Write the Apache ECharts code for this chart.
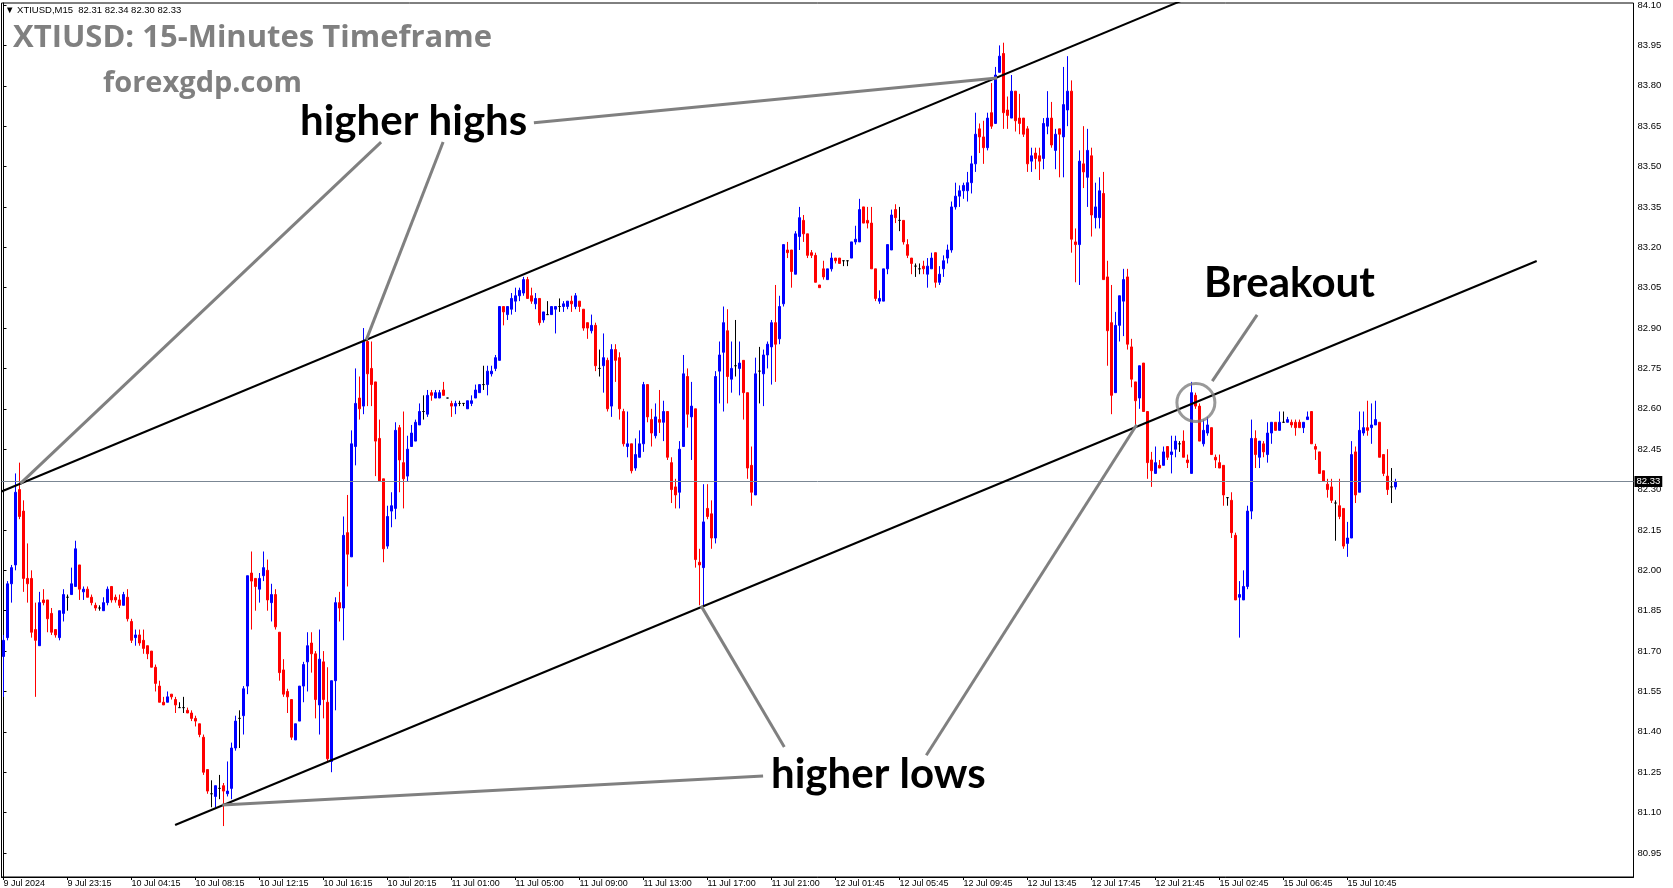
<!DOCTYPE html>
<html>
<head>
<meta charset="utf-8">
<script src="https://cdn.jsdelivr.net/npm/echarts@6/dist/echarts.min.js"></script>
<style>
html,body{margin:0;padding:0;background:#fff;}
#chart{width:1673px;height:888px;}
</style>
</head>
<body>
<div id="chart"></div>
<script>
// ---------- DATA: 15-minute candles [open, close, low, high] ----------
const jul09 = [
[81.68,81.74,81.53,81.76],[81.75,81.95,81.74,81.96],[81.95,82.01,81.88,82.02],[82.02,82.29,82.00,82.36],
[82.30,82.20,82.19,82.40],[82.22,81.97,81.92,82.26],[81.97,81.95,81.88,82.10],[81.97,81.77,81.75,82.00],
[81.78,81.74,81.53,81.88],[81.72,81.88,81.72,81.92],[81.89,81.88,81.87,81.93],[81.89,81.82,81.77,81.89],
[81.84,81.77,81.76,81.86],[81.78,81.76,81.75,81.78],[81.75,81.85,81.74,81.85],[81.84,81.91,81.81,81.93],
[81.90,81.90,81.85,81.91],[81.91,81.95,81.91,82.01],[81.94,82.08,81.94,82.11]
];
const jul10 = [
[82.02,81.93,81.89,82.02],[81.92,81.93,81.89,81.94],[81.93,81.90,81.90,81.94],[81.90,81.88,81.87,81.91],
[81.87,81.86,81.85,81.88],[81.86,81.86,81.85,81.87],[81.85,81.88,81.85,81.90],[81.88,81.93,81.87,81.94],
[81.94,81.89,81.88,81.94],[81.90,81.89,81.88,81.91],[81.89,81.87,81.86,81.91],[81.87,81.91,81.87,81.92],
[81.90,81.82,81.81,81.93],[81.81,81.74,81.73,81.82],[81.75,81.76,81.72,81.78],[81.76,81.73,81.72,81.78],
[81.74,81.71,81.69,81.78],[81.72,81.69,81.67,81.72],[81.70,81.64,81.64,81.70],[81.64,81.58,81.55,81.65],
[81.57,81.51,81.51,81.59],[81.51,81.50,81.50,81.53],[81.51,81.53,81.51,81.55],[81.54,81.53,81.52,81.54],
[81.52,81.50,81.47,81.53],[81.49,81.49,81.49,81.51],[81.49,81.49,81.47,81.53],[81.48,81.47,81.47,81.49],
[81.47,81.45,81.44,81.48],[81.45,81.44,81.42,81.46],[81.43,81.39,81.38,81.43],[81.38,81.25,81.24,81.39],
[81.26,81.18,81.17,81.26],[81.17,81.17,81.12,81.22],[81.16,81.20,81.12,81.20],[81.19,81.19,81.15,81.24],
[81.20,81.18,81.05,81.21],[81.17,81.18,81.16,81.29],[81.19,81.34,81.15,81.36],[81.34,81.44,81.33,81.46],
[81.45,81.45,81.34,81.48],[81.46,81.56,81.39,81.57],[81.57,81.98,81.54,81.98],[81.99,81.96,81.78,82.07],
[81.97,81.94,81.85,81.97],[81.93,81.97,81.88,81.99],[81.98,82.01,81.96,82.07],[82.00,81.89,81.85,82.04],
[81.88,81.91,81.81,81.95],[81.91,81.79,81.78,81.93],[81.77,81.62,81.59,81.77],[81.63,81.54,81.53,81.67],
[81.55,81.53,81.47,81.56],[81.52,81.38,81.37,81.52],[81.37,81.43,81.37,81.43],[81.44,81.57,81.44,81.57],
[81.57,81.65,81.51,81.66],[81.66,81.72,81.55,81.77],[81.73,81.69,81.62,81.77],[81.69,81.52,81.45,81.70],
[81.50,81.67,81.39,81.78],[81.66,81.52,81.45,81.70],[81.51,81.30,81.29,81.64],[81.29,81.59,81.25,81.59],
[81.59,81.88,81.48,81.90],[81.88,81.86,81.81,81.92],[81.86,82.13,81.74,82.20],[82.14,82.06,81.94,82.28],
[82.05,82.47,82.05,82.52],[82.46,82.62,82.39,82.75],[82.64,82.60,82.56,82.72],[82.61,82.85,82.58,82.90],
[82.85,82.73,82.61,82.86],[82.75,82.69,82.61,82.85],[82.70,82.48,82.35,82.70],[82.49,82.33,82.33,82.56],
[82.34,82.08,82.03,82.34],[82.09,82.20,82.08,82.24],[82.22,82.24,82.16,82.29],[82.23,82.52,82.19,82.55],
[82.53,82.41,82.29,82.54],[82.40,82.34,82.23,82.59],[82.35,82.45,82.33,82.50],[82.46,82.51,82.46,82.54],
[82.48,82.55,82.48,82.56],[82.54,82.59,82.54,82.62],[82.59,82.59,82.56,82.65],[82.58,82.65,82.57,82.67],
[82.66,82.65,82.63,82.67],[82.64,82.66,82.64,82.67],[82.64,82.66,82.64,82.67],[82.67,82.65,82.65,82.70]
];
const jul11 = [
[82.64,82.64,82.64,82.64],[82.62,82.61,82.57,82.63],[82.61,82.62,82.58,82.63],[82.62,82.62,82.61,82.63],
[82.62,82.62,82.61,82.62],[82.60,82.63,82.60,82.63],[82.62,82.63,82.61,82.65],[82.64,82.67,82.64,82.69],
[82.66,82.69,82.66,82.69],[82.69,82.69,82.67,82.76],[82.69,82.74,82.65,82.76],[82.73,82.74,82.72,82.76],
[82.75,82.79,82.74,82.80],[82.78,82.98,82.78,82.98],[82.98,82.96,82.91,82.98],[82.95,82.98,82.93,82.98],
[82.97,83.01,82.95,83.03],[83.00,83.02,82.96,83.05],[83.02,83.04,83.00,83.05],[83.03,83.08,83.02,83.09],
[83.08,83.01,83.01,83.09],[83.02,83.00,82.99,83.05],[82.99,83.01,82.97,83.03],[83.01,82.92,82.91,83.01],
[82.93,82.96,82.92,82.96],[82.95,82.95,82.95,83.00],[82.95,82.98,82.95,82.98],[82.97,82.98,82.88,82.98],
[82.98,82.98,82.96,83.01],[82.98,82.99,82.96,83.00],[82.98,83.00,82.97,83.00],[83.00,82.99,82.96,83.02],
[82.98,83.02,82.97,83.03],[83.00,82.98,82.96,83.00],[82.97,82.90,82.89,82.97],[82.92,82.90,82.86,82.92],
[82.89,82.91,82.88,82.95],[82.91,82.76,82.74,82.92],[82.75,82.75,82.72,82.82],[82.76,82.79,82.66,82.88],
[82.78,82.60,82.59,82.79],[82.61,82.82,82.57,82.84],[82.82,82.78,82.70,82.84],[82.79,82.60,82.56,82.81],
[82.59,82.47,82.46,82.60],[82.46,82.47,82.42,82.59],[82.47,82.37,82.36,82.47],[82.38,82.43,82.37,82.49],
[82.42,82.47,82.42,82.52],[82.47,82.69,82.44,82.70],[82.69,82.57,82.55,82.69],[82.56,82.51,82.46,82.60],
[82.50,82.57,82.49,82.62],[82.56,82.55,82.51,82.67],[82.55,82.59,82.48,82.63],[82.59,82.42,82.41,82.59],
[82.40,82.30,82.25,82.42],[82.31,82.28,82.23,82.34],[82.29,82.45,82.23,82.48],[82.46,82.73,82.46,82.80],
[82.72,82.58,82.53,82.75],[82.57,82.61,82.41,82.70],[82.60,82.04,82.01,82.60],[82.03,82.02,81.87,82.08],
[82.01,82.18,81.87,82.32],[82.23,82.20,82.19,82.32],[82.21,82.12,82.08,82.26],[82.12,82.72,82.10,82.74],
[82.74,82.80,82.62,82.85],[82.81,82.92,82.59,82.98],[82.89,82.72,82.62,82.97],[82.71,82.75,82.66,82.85],
[82.76,82.76,82.72,82.93],[82.75,82.77,82.65,82.85],[82.78,82.66,82.56,82.78],[82.66,82.38,82.34,82.66],
[82.39,82.29,82.24,82.46],[82.28,82.73,82.28,82.79],[82.74,82.74,82.62,82.83],[82.73,82.80,82.61,82.82],
[82.80,82.84,82.75,82.85],[82.83,82.92,82.69,82.93],[82.92,82.84,82.70,83.06],[82.86,82.98,82.84,83.02],
[82.99,83.21,82.98,83.21],[83.19,83.18,83.16,83.22],[83.19,83.11,83.05,83.19],[83.10,83.25,83.10,83.26],
[83.24,83.31,83.19,83.35],[83.30,83.25,83.22,83.32],[83.25,83.17,83.16,83.25],[83.18,83.17,83.16,83.19],
[83.17,83.07,83.07,83.18]
];
const jul12 = [
[83.06,83.05,83.05,83.06],[83.12,83.09,83.08,83.15],[83.08,83.12,83.08,83.12],[83.12,83.16,83.11,83.18],
[83.16,83.15,83.14,83.16],[83.16,83.14,83.14,83.16],[83.15,83.15,83.13,83.15],[83.15,83.15,83.13,83.15],
[83.16,83.22,83.16,83.22],[83.22,83.23,83.21,83.28],[83.22,83.34,83.22,83.38],[83.35,83.29,83.29,83.35],
[83.30,83.29,83.27,83.35],[83.29,83.12,83.12,83.35],[83.12,83.01,83.00,83.12],[83.00,83.01,82.99,83.04],
[83.00,83.12,83.00,83.12],[83.12,83.21,83.10,83.21],[83.19,83.32,83.19,83.34],[83.34,83.31,83.29,83.36],
[83.30,83.30,83.26,83.35],[83.30,83.22,83.21,83.30],[83.21,83.17,83.16,83.23],[83.16,83.14,83.10,83.16],
[83.13,83.13,83.09,83.14],[83.12,83.12,83.10,83.14],[83.13,83.12,83.10,83.15],[83.10,83.13,83.05,83.16],
[83.12,83.16,83.12,83.18],[83.18,83.07,83.05,83.18],[83.07,83.10,83.06,83.13],[83.12,83.15,83.09,83.17],
[83.16,83.19,83.14,83.21],[83.19,83.35,83.18,83.37],[83.35,83.39,83.34,83.44],[83.39,83.41,83.35,83.43],
[83.41,83.43,83.38,83.44],[83.41,83.44,83.37,83.48],[83.44,83.51,83.40,83.54],[83.51,83.62,83.48,83.70],
[83.64,83.61,83.55,83.66],[83.61,83.57,83.51,83.67],[83.57,83.68,83.56,83.70],[83.70,83.65,83.64,83.81],
[83.66,83.84,83.66,83.87],[83.85,83.91,83.85,83.95],[83.92,83.70,83.64,83.96],[83.71,83.69,83.64,83.76],
[83.68,83.78,83.68,83.84],[83.78,83.67,83.63,83.78],[83.68,83.66,83.62,83.77],[83.68,83.62,83.61,83.68],
[83.64,83.51,83.48,83.65],[83.52,83.54,83.48,83.57],[83.55,83.53,83.49,83.57],[83.54,83.52,83.45,83.57],
[83.53,83.66,83.49,83.68],[83.65,83.68,83.62,83.78],[83.68,83.58,83.57,83.74],[83.56,83.62,83.49,83.64],
[83.64,83.62,83.46,83.64],[83.61,83.73,83.46,83.87],[83.71,83.78,83.65,83.91],[83.78,83.23,83.18,83.82],
[83.22,83.21,83.07,83.27],[83.21,83.52,83.06,83.56],[83.51,83.48,83.42,83.65],[83.46,83.56,83.35,83.64],
[83.54,83.32,83.24,83.57],[83.31,83.35,83.27,83.44],[83.31,83.41,83.27,83.46],[83.40,83.08,83.08,83.48],
[83.09,82.89,82.76,83.15],[82.92,82.65,82.58,83.06],[82.66,82.91,82.66,82.96],[82.91,83.02,82.85,83.02],
[83.00,83.08,82.87,83.12],[83.09,82.84,82.82,83.12],[82.83,82.71,82.68,82.86],[82.70,82.63,82.53,82.70],
[82.64,82.76,82.60,82.76],[82.77,82.59,82.59,82.77],[82.59,82.40,82.34,82.59],[82.41,82.37,82.31,82.44],
[82.36,82.40,82.36,82.46],[82.39,82.38,82.38,82.41],[82.39,82.44,82.39,82.46],[82.46,82.42,82.41,82.46],
[82.43,82.44,82.36,82.50],[82.45,82.48,82.42,82.50],[82.47,82.47,82.44,82.48],[82.48,82.42,82.42,82.52],
[82.41,82.40,82.38,82.43]
];
const jul15 = [
[82.36,82.66,82.36,82.70],[82.65,82.61,82.60,82.66],[82.61,82.48,82.48,82.62],[82.47,82.52,82.46,82.56],
[82.51,82.54,82.50,82.57],[82.53,82.43,82.43,82.53],[82.42,82.41,82.38,82.43],[82.40,82.38,82.38,82.43],
[82.39,82.28,82.24,82.39],[82.27,82.27,82.24,82.27],[82.26,82.14,82.12,82.29],[82.13,81.89,81.89,82.14],
[81.90,81.91,81.75,81.96],[81.89,81.94,81.89,82.00],[81.94,82.22,81.93,82.24],[82.22,82.49,82.19,82.56],
[82.49,82.43,82.38,82.52],[82.42,82.48,82.38,82.48],[82.47,82.44,82.42,82.48],[82.43,82.51,82.40,82.55],
[82.51,82.55,82.47,82.55],[82.55,82.52,82.52,82.55],[82.52,82.55,82.52,82.59],[82.55,82.55,82.55,82.59],
[82.55,82.56,82.55,82.57],[82.55,82.54,82.53,82.56],[82.55,82.53,82.50,82.56],[82.55,82.53,82.53,82.56],
[82.53,82.55,82.51,82.55],[82.56,82.57,82.56,82.59],[82.59,82.47,82.47,82.59],[82.46,82.45,82.41,82.47],
[82.44,82.36,82.36,82.44],[82.37,82.33,82.33,82.37],[82.32,82.30,82.27,82.34],[82.31,82.26,82.25,82.34],
[82.25,82.25,82.11,82.26],[82.24,82.20,82.19,82.34],[82.23,82.09,82.08,82.23],[82.10,82.12,82.05,82.18],
[82.12,82.43,82.12,82.48],[82.44,82.28,82.25,82.46],[82.29,82.52,82.29,82.59],[82.51,82.53,82.50,82.59],
[82.53,82.52,82.50,82.63],[82.53,82.54,82.47,82.62],[82.54,82.56,82.54,82.63],[82.55,82.42,82.42,82.55],
[82.43,82.36,82.35,82.43],[82.35,82.30,82.28,82.45],[82.31,82.31,82.25,82.38],[82.31,82.33,82.30,82.34]
];

// time-axis tick labels (one every 16 bars)
const timeTickLabels = ['9 Jul 2024','9 Jul 23:15','10 Jul 04:15','10 Jul 08:15','10 Jul 12:15','10 Jul 16:15',
  '10 Jul 20:15','11 Jul 01:00','11 Jul 05:00','11 Jul 09:00','11 Jul 13:00','11 Jul 17:00','11 Jul 21:00',
  '12 Jul 01:45','12 Jul 05:45','12 Jul 09:45','12 Jul 13:45','12 Jul 17:45','12 Jul 21:45',
  '15 Jul 02:45','15 Jul 06:45','15 Jul 10:45'];
// price-axis tick labels
const priceTicks = [80.95,81.10,81.25,81.40,81.55,81.70,81.85,82.00,82.15,82.30,82.45,82.60,82.75,82.90,83.05,83.20,83.35,83.50,83.65,83.80,83.95,84.10];
const lastPrice = 82.33;
const headerText = '\u25BC XTIUSD,M15  82.31 82.34 82.30 82.33';

// trend lines [barIndex, price]
const upperChannel = [[-0.5, 82.293], [300, 84.15]];
const lowerChannel = [[42.9, 81.054], [383.3, 83.149]];
// annotation pointers [barIndex, price]
const hhPointer1 = [[4.2, 82.322], [94.4, 83.591]];
const hhPointer2 = [[90.7, 82.856], [109.9, 83.591]];
const hhPointer3 = [[132.6, 83.663], [248.4, 83.829]];
const hlPointer1 = [[54.7, 81.128], [189.9, 81.236]];
const hlPointer2 = [[174.4, 81.868], [195.2, 81.344]];
const hlPointer3 = [[283.3, 82.541], [230.7, 81.313]];
const breakoutPointer = [[313.4, 82.949], [302.2, 82.703]];
const breakoutCircle = [[298.1, 82.623]];

// ---------- chart ----------
const SLOTS = 408;
const TICK_EVERY = 16;
const candles = [].concat(jul09, jul10, jul11, jul12, jul15);
const slotNames = Array.from({length: SLOTS}, (_, i) => String(i));
const DOJI = '#000000', UP = '#0000ff', DOWN = '#ff0000';
const candleData = candles.map(d => d[0] === d[1]
  ? {value: d, itemStyle: {color: DOJI, color0: DOJI, borderColor: DOJI, borderColor0: DOJI}}
  : d);

const axisFont = '"Liberation Sans", Arial, sans-serif';
const isTick = (idx) => idx % TICK_EVERY === 0 && (idx / TICK_EVERY) < timeTickLabels.length;

function lineSeries(data, color, width) {
  return {type: 'line', xAxisIndex: 1, yAxisIndex: 0, data: data, symbol: 'none', silent: true,
    lineStyle: {color: color, width: width}, z: 5, animation: false};
}

const chart = echarts.init(document.getElementById('chart'), null, {renderer: 'canvas'});
chart.setOption({
  animation: false,
  backgroundColor: '#ffffff',
  grid: {left: 1.5, top: 3, width: 1632, height: 874, show: true, borderColor: '#000', borderWidth: 1, backgroundColor: '#fff'},
  xAxis: [{
    type: 'category', data: slotNames, boundaryGap: true, gridIndex: 0,
    axisLine: {lineStyle: {color: '#000', width: 1}},
    axisTick: {show: true, interval: (i) => isTick(i), alignWithLabel: true, length: 3, lineStyle: {color: '#000'}},
    axisLabel: {interval: (i) => isTick(i), formatter: (v, i) => isTick(i) ? timeTickLabels[i / TICK_EVERY] : '',
      align: 'left', margin: 2, color: '#000', fontSize: 9, fontFamily: axisFont},
    splitLine: {show: false}
  }, {
    type: 'value', min: -0.5, max: SLOTS - 0.5, show: false, gridIndex: 0
  }],
  yAxis: [{
    type: 'value', position: 'right', min: 80.8608, max: 84.1075, gridIndex: 0,
    axisLine: {show: true, lineStyle: {color: '#000', width: 1}},
    axisTick: {show: true, length: 3, customValues: priceTicks, lineStyle: {color: '#000'}},
    axisLabel: {customValues: priceTicks, formatter: (v) => v.toFixed(2), margin: 4, color: '#000', fontSize: 9.5, fontFamily: axisFont},
    splitLine: {show: false}
  }],
  series: [
    {
      type: 'candlestick', xAxisIndex: 0, yAxisIndex: 0, data: candleData, barWidth: 2, silent: true,
      itemStyle: {color: UP, color0: DOWN, borderColor: UP, borderColor0: DOWN, borderWidth: 1},
      markLine: {
        silent: true, symbol: ['none', 'none'], animation: false,
        lineStyle: {color: '#7b8794', width: 1, type: 'solid'},
        label: {show: true, position: 'end', formatter: lastPrice.toFixed(2), color: '#fff', backgroundColor: '#000',
          fontSize: 9.5, fontFamily: axisFont, padding: [1, 2, 0, 2], distance: 1},
        data: [{yAxis: lastPrice}]
      }
    },
    lineSeries(upperChannel, '#000', 2),
    lineSeries(lowerChannel, '#000', 2),
    lineSeries(hhPointer1, '#808080', 3),
    lineSeries(hhPointer2, '#808080', 3),
    lineSeries(hhPointer3, '#808080', 3),
    lineSeries(hlPointer1, '#808080', 3),
    lineSeries(hlPointer2, '#808080', 3),
    lineSeries(hlPointer3, '#808080', 3),
    lineSeries(breakoutPointer, '#808080', 3),
    {type: 'scatter', xAxisIndex: 1, yAxisIndex: 0, data: breakoutCircle, symbol: 'circle', symbolSize: 38, silent: true, z: 6,
      itemStyle: {color: 'rgba(0,0,0,0)', borderColor: '#808080', borderWidth: 3}}
  ],
  graphic: [
    {type: 'text', x: 5, y: 10, z: 100, style: {text: headerText, font: '9.5px "Liberation Sans", "DejaVu Sans", sans-serif', fill: '#000', textVerticalAlign: 'middle'}},
    {type: 'text', x: 13, y: 38, z: 100, style: {text: 'XTIUSD: 15-Minutes Timeframe', font: 'bold 31px "Open Sans", sans-serif', fill: '#808080', textVerticalAlign: 'middle'}},
    {type: 'text', x: 103, y: 84, z: 100, style: {text: 'forexgdp.com', font: 'bold 29px "Open Sans", sans-serif', fill: '#808080', textVerticalAlign: 'middle'}},
    {type: 'text', x: 300, y: 121, z: 100, style: {text: 'higher highs', font: 'bold 42px Lato, sans-serif', fill: '#000', textVerticalAlign: 'middle'}},
    {type: 'text', x: 771, y: 774, z: 100, style: {text: 'higher lows', font: 'bold 42px Lato, sans-serif', fill: '#000', textVerticalAlign: 'middle'}},
    {type: 'text', x: 1204, y: 283, z: 100, style: {text: 'Breakout', font: 'bold 42px Lato, sans-serif', fill: '#000', textVerticalAlign: 'middle'}}
  ]
});
</script>
</body>
</html>
